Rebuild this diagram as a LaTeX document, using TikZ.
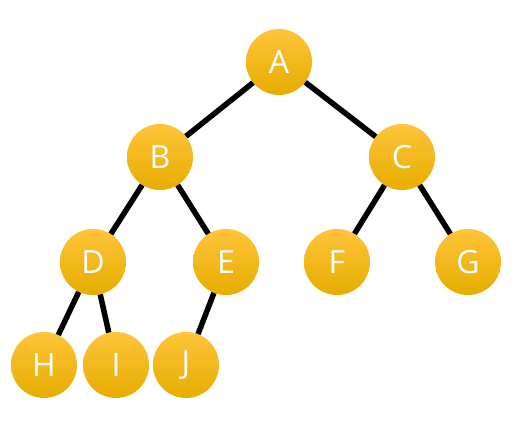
\documentclass[tikz,border=0pt]{standalone}
\usepackage{fontspec}
\setmainfont{Open Sans}
\definecolor{nodetop}{HTML}{FFC43A}
\definecolor{nodemid}{HTML}{FFC800}
\definecolor{nodebot}{HTML}{E6AD00}
\begin{document}
\begin{tikzpicture}[x=1pt,y=1pt,
  vertex/.style={circle, minimum size=66pt, inner sep=0pt,
    top color=nodetop, middle color=nodemid, bottom color=nodebot,
    text=white, font=\fontsize{32}{32}\selectfont},
  link/.style={line width=5.5pt, black}]
\useasboundingbox (0,0) rectangle (522,425);
% tree nodes (y measured upward from the bottom edge)
\node[vertex] (A) at (279,363) {A};
\node[vertex] (B) at (160,268) {B};
\node[vertex] (C) at (402,268) {C};
\node[vertex] (D) at (93,163) {D};
\node[vertex] (E) at (226,163) {E};
\node[vertex] (F) at (337,163) {F};
\node[vertex] (G) at (468,163) {G};
\node[vertex] (H) at (44,60) {H};
\node[vertex] (I) at (116,60) {I};
\node[vertex] (J) at (186,60) {J};
% edges between parent and child
\draw[link] (A) -- (B);
\draw[link] (A) -- (C);
\draw[link] (B) -- (D);
\draw[link] (B) -- (E);
\draw[link] (C) -- (F);
\draw[link] (C) -- (G);
\draw[link] (D) -- (H);
\draw[link] (D) -- (I);
\draw[link] (E) -- (J);
\end{tikzpicture}
\end{document}
